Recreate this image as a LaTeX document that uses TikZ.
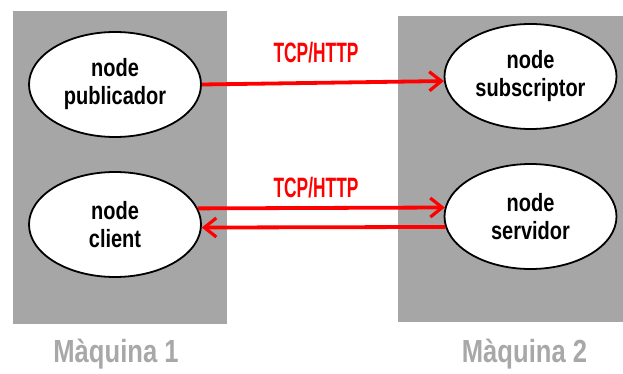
\documentclass[tikz,border=0pt]{standalone}
\usepackage{fontspec}
\setmainfont{Liberation Sans}
\newfontfamily\nodefont{Liberation Sans Bold}[FakeStretch=0.8]
\newfontfamily\tcpfont{Liberation Sans Bold}[FakeStretch=0.62]
\newfontfamily\machfont{Liberation Sans Bold}[FakeStretch=0.8]
\usetikzlibrary{shapes.geometric,arrows.meta}
\definecolor{boxgray}{HTML}{A6A6A6}
\definecolor{labgray}{HTML}{A8A8A8}
\definecolor{netred}{HTML}{FF0000}
\tikzset{
  machine/.style={fill=boxgray, draw=none},
  proc/.style={ellipse, draw=black, line width=1.8pt, fill=white, minimum width=172pt, minimum height=105pt, inner sep=0pt, align=center, font=\nodefont\fontsize{25}{28}\selectfont},
  conn/.style={draw=netred, line width=3.8pt, -{Straight Barb[length=12pt,width=19pt,line width=3.2pt]}},
  proto/.style={text=netred, font=\tcpfont\fontsize{28}{30}\selectfont, inner sep=0pt},
  machlabel/.style={text=labgray, font=\machfont\fontsize{32}{34}\selectfont, anchor=base, inner sep=0pt}
}
\begin{document}
\begin{tikzpicture}[x=1pt, y=-1pt]
\path[use as bounding box] (0,0) rectangle (623,374);
\fill[machine] (13,11) rectangle (227,324);
\fill[machine] (398,16) rectangle (623,322);
\node[proc] (pub) at (115,84.5) {node\\publicador};
\node[proc] (cli) at (115,224.5) {node\\client};
\node[proc] (sub) at (530.5,76.5) {node\\subscriptor};
\node[proc] (srv) at (530.5,216.5) {node\\servidor};
\draw[conn] (pub.east) -- (sub.183.3);
\draw[conn] (cli.11) -- (srv.174);
\draw[conn] (srv.187) -- (cli.358);
\node[proto] (t1) at (316,53) {TCP/HTTP};
\node[proto] (t2) at (316,188) {TCP/HTTP};
\node[machlabel] (m1) at (116,362) {Màquina 1};
\node[machlabel] (m2) at (524.5,362) {Màquina 2};
\end{tikzpicture}
\end{document}
